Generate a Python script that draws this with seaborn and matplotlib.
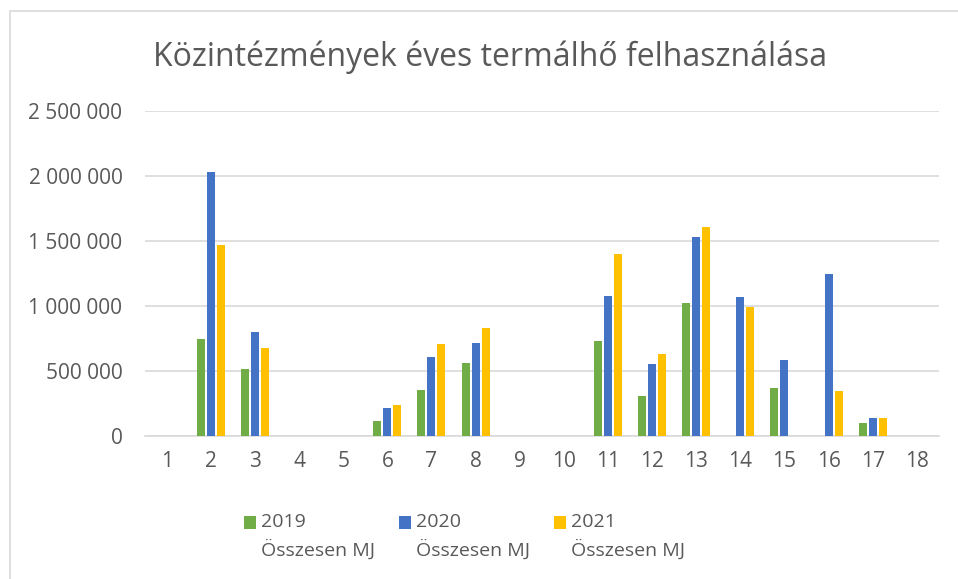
import pandas as pd
import seaborn as sns
import matplotlib.pyplot as plt
from matplotlib.patches import Rectangle
from matplotlib.legend_handler import HandlerPatch
from matplotlib.ticker import FuncFormatter

# data
intezmeny = [str(i) for i in range(1, 19)]
ev_2019 = [0, 746000, 515000, 0, 0, 118000, 353000, 562000, 0, 0,
           731000, 311000, 1026000, 0, 369000, 0, 100000, 0]
ev_2020 = [0, 2031000, 803000, 0, 0, 213000, 605000, 718000, 0, 0,
           1075000, 557000, 1534000, 1072000, 582000, 1249000, 141000, 0]
ev_2021 = [0, 1467000, 677000, 0, 0, 238000, 708000, 831000, 0, 0,
           1403000, 628000, 1608000, 992000, 0, 349000, 141000, 0]
sorozatok = ["2019\nÖsszesen MJ", "2020\nÖsszesen MJ", "2021\nÖsszesen MJ"]
szinek = ["#70AD47", "#4472C4", "#FFC000"]

df = pd.DataFrame({
    "intezmeny": intezmeny * 3,
    "MJ": ev_2019 + ev_2020 + ev_2021,
    "sorozat": [s for s in sorozatok for _ in intezmeny],
})

sns.set_style("white")
plt.rcParams["font.family"] = ["Open Sans", "DejaVu Sans"]
szurke = "#595959"


# legend square next to the first line of the two-line label
class FelsoNegyzet(HandlerPatch):
    def create_artists(self, legend, orig_handle, xdescent, ydescent,
                       width, height, fontsize, trans):
        p = Rectangle((-xdescent, -ydescent + 0.7 * fontsize), width, height,
                      facecolor=orig_handle.get_facecolor(), edgecolor="none",
                      transform=trans)
        return [p]


fig = plt.figure(figsize=(9.58, 5.79), dpi=100)
ax = fig.add_axes([0.151, 0.247, 0.829, 0.561])

sns.barplot(data=df, x="intezmeny", y="MJ", hue="sorozat", order=intezmeny,
            hue_order=sorozatok, palette=szinek, saturation=1, width=0.68, gap=0.2,
            linewidth=0, ax=ax, zorder=3)

ax.set_ylim(0, 2500000)
ax.set_yticks(range(0, 2500001, 500000))
ax.yaxis.set_major_formatter(FuncFormatter(lambda v, p: f"{int(v):,}".replace(",", " ")))
ax.grid(axis="y", color="#d9d9d9", linewidth=1.2, zorder=0)
ax.set_xlabel("")
ax.set_ylabel("")
for s in ["top", "right", "left"]:
    ax.spines[s].set_visible(False)
ax.spines["bottom"].set_color("#d9d9d9")
ax.spines["bottom"].set_linewidth(1.2)
ax.tick_params(axis="both", length=0, labelsize=15, colors=szurke)
ax.tick_params(axis="x", pad=11)
ax.tick_params(axis="y", pad=16)

fig.suptitle("Közintézmények éves termálhő felhasználása", x=0.512, y=0.93,
             fontsize=23, color=szurke)

ax.legend_.remove()
leg = fig.legend(*ax.get_legend_handles_labels(), loc="center", ncol=3,
                 bbox_to_anchor=(0.485, 0.074), frameon=False, fontsize=14,
                 labelcolor=szurke, handlelength=0.63, handleheight=0.63,
                 handletextpad=0.25, columnspacing=1.22,
                 handler_map={Rectangle: FelsoNegyzet()})
for t in leg.get_texts():
    t.set_linespacing(1.5)

# chart border
fig.add_artist(Rectangle((10 / 958, -0.05), 1.1, 1.031, transform=fig.transFigure,
                         fill=False, edgecolor="#d9d9d9", linewidth=1.2))

fig.savefig("out.png", dpi=100)
